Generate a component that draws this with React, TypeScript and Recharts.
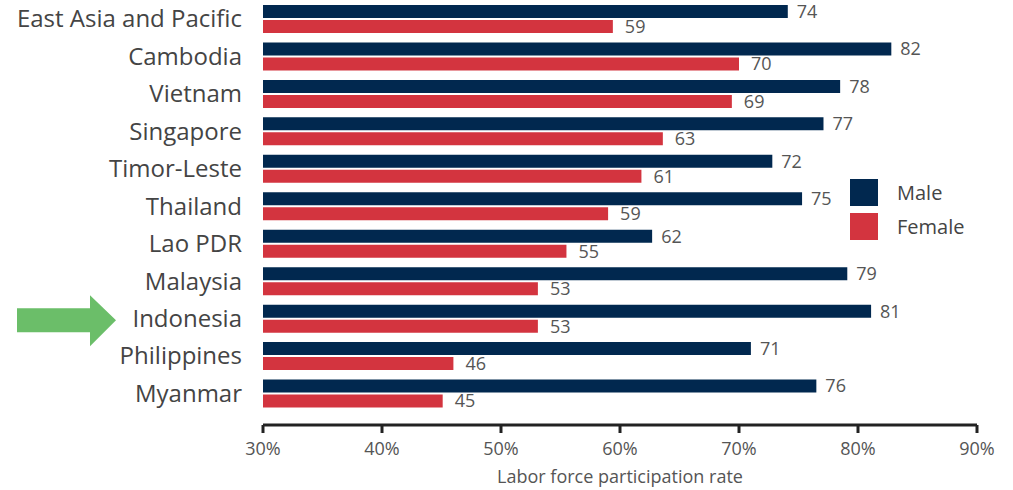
import React from 'react';
import { BarChart, Bar, XAxis, YAxis, LabelList, Legend, Label } from 'recharts';

const countries = [
  'East Asia and Pacific',
  'Cambodia',
  'Vietnam',
  'Singapore',
  'Timor-Leste',
  'Thailand',
  'Lao PDR',
  'Malaysia',
  'Indonesia',
  'Philippines',
  'Myanmar',
];
const maleRates = [74.1, 82.8, 78.5, 77.1, 72.8, 75.3, 62.7, 79.1, 81.1, 71.0, 76.5];
const femaleRates = [59.4, 70.0, 69.4, 63.6, 61.8, 59.0, 55.5, 53.1, 53.1, 46.0, 45.1];
const xTicks = [30, 40, 50, 60, 70, 80, 90];
const seriesNames = ['Male', 'Female'];
const highlighted = 'Indonesia';

const MALE_COLOR = '#01284F';
const FEMALE_COLOR = '#D3343F';
const ARROW_COLOR = '#6BBE69';
const FONT = '"Open Sans", "DejaVu Sans", sans-serif';

const data = countries.map((country, i) => ({
  country,
  male: maleRates[i],
  female: femaleRates[i],
}));

const CategoryTick = (props: any) => {
  const { x, y, payload } = props;
  const isHi = payload.value === highlighted;
  return (
    <g>
      {isHi && (
        <polygon
          points={`${x - 225},${y - 10} ${x - 152},${y - 10} ${x - 152},${y - 23} ${x - 126},${y + 2} ${x - 152},${y + 28} ${x - 152},${y + 14} ${x - 225},${y + 14}`}
          fill={ARROW_COLOR}
        />
      )}
      <text x={x} y={y} dy="0.36em" textAnchor="end" fill="#444" fontSize={24} fontFamily={FONT}>
        {payload.value}
      </text>
    </g>
  );
};

const LegendContent = (props: any) => {
  const items = [...(props.payload || [])].sort(
    (a: any, b: any) => seriesNames.indexOf(a.value) - seriesNames.indexOf(b.value)
  );
  return (
    <div style={{ fontFamily: FONT, fontSize: 20, color: '#444' }}>
      {items.map((it: any) => (
        <div key={it.value} style={{ display: 'flex', alignItems: 'center', height: 27, marginBottom: 7 }}>
          <div style={{ width: 28, height: 27, background: it.color }} />
          <span style={{ marginLeft: 19, lineHeight: 1 }}>{it.value}</span>
        </div>
      ))}
    </div>
  );
};

const fmt = (v: any) => String(Math.floor(Number(v)));

export default function App() {
  return (
    <div style={{ position: 'absolute', left: 0, top: 0, fontFamily: FONT }}>
      <BarChart
        width={1013}
        height={490}
        data={data}
        layout="vertical"
        margin={{ top: 0, right: 36, left: 0, bottom: 0 }}
        barGap={2}
      >
        <XAxis
          type="number"
          domain={[30, 90]}
          ticks={xTicks}
          interval={0}
          tickFormatter={(v: number) => `${v}%`}
          axisLine={{ stroke: '#222', strokeWidth: 3 }}
          tickLine={{ stroke: '#222', strokeWidth: 3 }}
          tickSize={8}
          tickMargin={9}
          tick={{ fill: '#555', fontSize: 18, fontFamily: FONT }}
          height={65}
        >
          <Label
            value="Labor force participation rate"
            position="insideBottom"
            offset={7}
            fill="#555"
            fontSize={18}
            fontFamily={FONT}
          />
        </XAxis>
        <YAxis
          type="category"
          dataKey="country"
          width={263}
          axisLine={false}
          tickLine={false}
          tickSize={0}
          tickMargin={21}
          interval={0}
          padding={{ top: 0, bottom: 13 }}
          tick={<CategoryTick />}
        />
        <Legend
          layout="vertical"
          align="center"
          verticalAlign="middle"
          content={<LegendContent />}
          wrapperStyle={{ left: 850, top: 179, width: 150, height: 70 }}
        />
        <Bar dataKey="male" name={seriesNames[0]} fill={MALE_COLOR} barSize={13} isAnimationActive={false}>
          <LabelList
            dataKey="male"
            position="right"
            offset={9}
            formatter={fmt}
            fill="#555"
            fontSize={18}
            fontFamily={FONT}
          />
        </Bar>
        <Bar dataKey="female" name={seriesNames[1]} fill={FEMALE_COLOR} barSize={13} isAnimationActive={false}>
          <LabelList
            dataKey="female"
            position="right"
            offset={12}
            formatter={fmt}
            fill="#555"
            fontSize={18}
            fontFamily={FONT}
          />
        </Bar>
      </BarChart>
    </div>
  );
}
